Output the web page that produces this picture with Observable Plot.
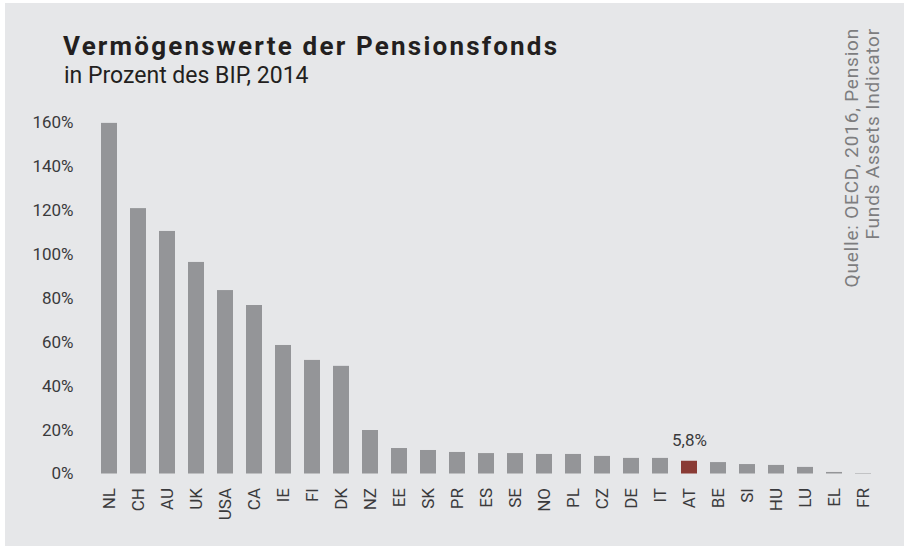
<!DOCTYPE html>
<html>
<head>
<meta charset="utf-8">
<script src="https://cdn.jsdelivr.net/npm/d3@7"></script>
<script src="https://cdn.jsdelivr.net/npm/@observablehq/plot@0.6"></script>
<style>
  html, body { margin: 0; padding: 0; background: #ffffff; }
  body { width: 904px; height: 549px; position: relative; overflow: hidden; font-family: Roboto, "Noto Sans", sans-serif; }
  #frame { position: absolute; left: 5px; top: 3px; width: 899px; height: 543px; background: #e6e7e9; }
  #title { position: absolute; left: 63px; top: 33px; font-size: 26px; line-height: 26px; letter-spacing: 2.2px; font-weight: 700; color: #231f20; white-space: nowrap; }
  #subtitle { position: absolute; left: 64px; top: 64px; font-size: 23px; line-height: 23px; color: #231f20; white-space: nowrap; }
  #chart { position: absolute; left: 0; top: 100px; }
  #source { position: absolute; left: 841px; top: 328px; width: 300px; transform-origin: 0 0; transform: rotate(-90deg); text-align: right; font-size: 19px; line-height: 21px; letter-spacing: 0.8px; color: #7d7d7f; white-space: nowrap; }
</style>
</head>
<body>
<div id="frame"></div>
<div id="title">Vermögenswerte der Pensionsfonds</div>
<div id="subtitle">in Prozent des BIP, 2014</div>
<div id="chart"></div>
<div id="source">Quelle: OECD, 2016, Pension<br>Funds Assets Indicator</div>
<script>
const countries = ["NL","CH","AU","UK","USA","CA","IE","FI","DK","NZ","EE","SK","PR","ES","SE","NO","PL","CZ","DE","IT","AT","BE","SI","HU","LU","EL","FR"];
const values = [159.6,120.8,110.4,96.3,83.5,76.7,58.5,51.7,49.0,19.8,11.6,10.7,9.8,9.3,9.3,8.9,8.9,8.0,7.1,7.1,5.8,5.2,4.3,3.9,3.0,0.7,0.2];
const yTicks = [0,20,40,60,80,100,120,140,160];
const highlight = "AT";

const data = countries.map((c, i) => ({country: c, value: values[i]}));

const chart = Plot.plot({
  width: 904,
  height: 449,
  marginLeft: 87,
  marginRight: 19,
  marginTop: 22,
  marginBottom: 75.5,
  style: {background: "transparent", fontFamily: "Roboto, 'Noto Sans', sans-serif", fontSize: "17px", color: "#3a3a3c"},
  x: {type: "band", domain: countries, padding: 0.465, align: 0.5, label: null},
  y: {domain: [0, 160], label: null},
  color: {type: "identity"},
  marks: [
    Plot.barY(data, {x: "country", y: "value", fill: d => d.country === highlight ? "#8a3b35" : "#949598"}),
    Plot.text(data.filter(d => d.country === highlight), {
      x: "country", y: "value",
      text: d => d.value.toLocaleString("de-DE") + "%",
      lineAnchor: "bottom", dy: -15, fill: "#3a3a3c", fontSize: 17
    }),
    Plot.axisY({ticks: yTicks, tickFormat: d => d + "%", tickSize: 0, tickPadding: 14, label: null}),
    Plot.axisX({tickRotate: -90, tickSize: 0, tickPadding: 14, label: null})
  ]
});
document.getElementById("chart").appendChild(chart);
</script>
</body>
</html>
